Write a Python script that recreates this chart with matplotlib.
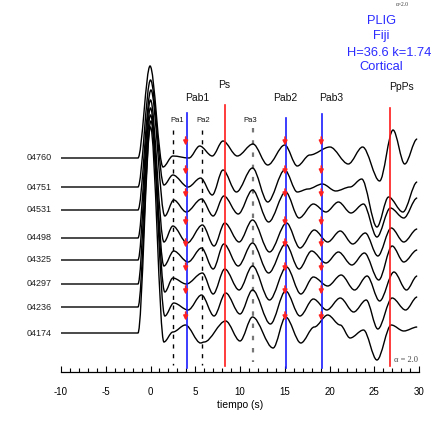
import matplotlib
matplotlib.use("Agg")
import matplotlib.pyplot as plt
from matplotlib.path import Path
from matplotlib.patches import PathPatch
from matplotlib.ticker import MultipleLocator

plt.rcParams["axes.unicode_minus"] = False

# ---------------------------------------------------------------------------
# Receiver-function traces, station PLIG (Fiji).
# Each trace is given by its turning points: times (s) and amplitudes
# (arbitrary units, positive up).
# ---------------------------------------------------------------------------
stations = ["04760", "04751", "04531", "04498", "04325", "04297", "04236", "04174"]
offsets = [175, 146, 123, 95, 73, 49, 26, 0]

t_04760 = [-10, -1.4, -0.05, 1.4, 2.5, 4.3, 5.5, 6.9, 8.1, 9.7, 11.45, 13.1, 15.0, 16.4, 17.8, 20.05, 22.1, 23.7, 25.6, 27.1, 28.4, 29.8]
a_04760 = [0, 0, 92, -9, 2, 0, 12, 2, 17, 2, 14, -7, 13, -8, 3, 11, -6, 11, -23, 28, -6, 19]

t_04751 = [-10, -1.4, 0.0, 1.5, 2.5, 4.2, 5.6, 6.9, 8.1, 9.6, 11.4, 13.1, 15.0, 16.4, 17.6, 19.2, 20.7, 22.3, 23.6, 25.3, 26.6, 28.2, 29.8]
a_04751 = [0, 0, 107, 2, 12, 0, 9, -8, 17, -5, 19, -15, 17, -5, -2, 3, -4, 0, 8, -40, -10, -25, 5]

t_04531 = [-10, -1.4, 0.05, 1.6, 2.6, 4.0, 5.7, 7.0, 8.2, 9.8, 11.4, 13.2, 15.1, 16.6, 18.2, 19.6, 21.0, 22.4, 23.8, 25.3, 26.8, 28.3, 29.8]
a_04531 = [0, 0, 120, -6, 10, -2, 11, -6, 14, -4, 20, -12, 18, -8, 6, -2, 8, -3, 6, -27, 2, -8, 12]

t_04498 = [-10, -1.4, 0.0, 1.5, 2.5, 4.1, 5.8, 7.1, 8.3, 9.9, 11.4, 13.3, 15.2, 16.7, 18.3, 19.8, 21.2, 22.6, 24.0, 25.4, 26.9, 28.3, 29.8]
a_04498 = [0, 0, 138, -4, 12, -5, 13, -8, 15, -4, 18, -14, 15, -10, 8, -4, 7, -6, 5, -18, 10, -4, 9]

t_04325 = [-10, -1.4, 0.0, 1.5, 2.6, 4.2, 5.7, 7.0, 8.2, 9.8, 11.4, 13.2, 15.1, 16.6, 18.0, 19.6, 21.0, 22.5, 23.9, 25.5, 27.0, 28.3, 29.8]
a_04325 = [0, 0, 152, -6, 9, -2, 12, -9, 16, -6, 17, -13, 16, -9, 9, -3, 8, -5, 7, -20, 14, -2, 10]

t_04297 = [-10, -1.4, 0.0, 1.6, 2.5, 4.0, 5.8, 7.0, 8.3, 9.9, 11.4, 13.3, 15.2, 16.8, 18.2, 19.8, 21.3, 22.8, 24.2, 25.6, 27.2, 28.6, 29.8]
a_04297 = [0, 0, 169, -8, 6, 0, 11, -10, 15, -6, 18, -16, 17, -10, 7, -2, 9, -6, 8, -17, 12, -6, 8]

t_04236 = [-10, -1.4, 0.05, 1.6, 2.6, 4.2, 5.7, 7.1, 8.4, 10.0, 11.4, 13.4, 15.1, 16.7, 18.2, 19.7, 21.2, 22.7, 24.1, 25.4, 27.0, 28.5, 29.8]
a_04236 = [0, 0, 186, -9, 4, -3, 12, -9, 14, -7, 17, -17, 16, -9, 8, -3, 9, -5, 7, -22, 9, -3, 10]

t_04174 = [-10, -1.4, 0.0, 1.5, 2.5, 3.9, 5.6, 6.0, 8.4, 10.0, 11.4, 13.7, 15.1, 16.8, 18.3, 19.8, 21.2, 22.3, 23.8, 25.3, 26.9, 28.3, 29.8]
a_04174 = [0, 0, 206, -9, 1, 8, -10, -9, 12, -8, 16, -15, 16, -10, 6, 18, 8, -5, 3, -27, 8, 2, 6]

times = [t_04760, t_04751, t_04531, t_04498, t_04325, t_04297, t_04236, t_04174]
amps = [a_04760, a_04751, a_04531, a_04498, a_04325, a_04297, a_04236, a_04174]

# Phase markers
dashed_phases = ["Pa1", "Pa2"]
dashed_times = [2.55, 5.75]
grey_phase = "Pa3"
grey_time = 11.4
blue_phases = ["Pab1", "Pab2", "Pab3"]
blue_times = [4.05, 15.15, 19.2]
red_phases = ["Ps", "PpPs"]
red_times = [8.35, 26.8]

station_info = ["PLIG", "Fiji", "H=36.6 k=1.74", "Cortical"]

# ---------------------------------------------------------------------------
W, H = 441, 424
fig = plt.figure(figsize=(W / 100, H / 100), dpi=100)
fig.patch.set_facecolor("white")

x0_px, x1_px = 61.0, 419.0
axis_px = 371.7
ax = fig.add_axes([x0_px / W, (H - axis_px) / H, (x1_px - x0_px) / W, axis_px / H])
ax.set_xlim(-10, 30)
y_top = 333.0
ax.set_ylim(y_top - axis_px, y_top)   # 1 unit = 1 px, 0 at lowest trace


def py(ypx):
    """vertical pixel row -> data value"""
    return y_top - ypx


for sp in ["left", "right", "top"]:
    ax.spines[sp].set_visible(False)
ax.spines["bottom"].set_linewidth(0.9)
ax.set_yticks([])
ax.xaxis.set_major_locator(MultipleLocator(5))
ax.xaxis.set_minor_locator(MultipleLocator(1))
ax.tick_params(axis="x", which="major", direction="in", length=4, width=0.8, pad=11,
               labelsize=7)
ax.tick_params(axis="x", which="minor", direction="in", length=3, width=0.8)
for lab in ax.get_xticklabels():
    lab.set_fontfamily("Liberation Sans")
ax.set_xlabel("tiempo (s)", fontsize=7.5, family="Liberation Sans", labelpad=2)
ax.patch.set_alpha(0)


def smooth_path(ts, vs, off):
    verts = [(ts[0], vs[0] + off)]
    codes = [Path.MOVETO]
    for i in range(1, len(ts)):
        ta, tb = ts[i - 1], ts[i]
        va, vb = vs[i - 1] + off, vs[i] + off
        d = (tb - ta) / 3.0
        verts += [(ta + d, va), (tb - d, vb), (tb, vb)]
        codes += [Path.CURVE4] * 3
    return Path(verts, codes)


# traces
for name, off, ts, vs in zip(stations, offsets, times, amps):
    ax.add_patch(PathPatch(smooth_path(ts, vs, off), facecolor="none",
                           edgecolor="black", lw=1.0, zorder=3, clip_on=False))
    ax.text(-11.0, off, name, ha="right", va="center", fontsize=6.5,
            family="Liberation Sans", color="#222222", clip_on=False)

# phase lines
ax.plot([dashed_times[0]] * 2, [py(130), py(365)], color="black", lw=1.0,
        dashes=(3, 4), zorder=2)
ax.plot([dashed_times[1]] * 2, [py(130), py(365)], color="black", lw=1.0,
        dashes=(3, 4), zorder=2)
ax.plot([grey_time] * 2, [py(128), py(362)], color="#777777", lw=1.6,
        dashes=(2, 3.5), zorder=2)
blue_tops = [113, 118, 114]
for tb, top in zip(blue_times, blue_tops):
    ax.plot([tb, tb], [py(top), py(368)], color="#1a1aff", lw=1.2, zorder=4)
red_tops = [105, 108]
for tr, top in zip(red_times, red_tops):
    ax.plot([tr, tr], [py(top), py(366)], color="#ff1a1a", lw=1.2, zorder=4)

# small red arrows above each trace at the Pab phases
for tb in blue_times:
    for off in offsets:
        ax.annotate("", xy=(tb - 0.12, off + 12.5), xytext=(tb - 0.12, off + 21),
                    arrowprops=dict(arrowstyle="-|>", color="#ff2020", lw=1.2,
                                    mutation_scale=6.5, shrinkA=0, shrinkB=0),
                    zorder=5)

# phase labels
lab_kw = dict(ha="center", va="center", family="Liberation Sans", color="#111111")
ax.text(2.95, py(120), "Pa1", fontsize=5.5, **lab_kw)
ax.text(5.85, py(120), "Pa2", fontsize=5.5, **lab_kw)
ax.text(11.15, py(120), "Pa3", fontsize=5.5, **lab_kw)
ax.text(5.2, py(98), "Pab1", fontsize=7.5, **lab_kw)
ax.text(8.2, py(85), "Ps", fontsize=7.5, **lab_kw)
ax.text(15.0, py(98), "Pab2", fontsize=7.5, **lab_kw)
ax.text(20.2, py(98), "Pab3", fontsize=7.5, **lab_kw)
ax.text(28.05, py(87), "PpPs", fontsize=7.5, **lab_kw)

# station description
info_x = [382, 381.5, 389, 381.5]
info_y = [24, 39, 55.5, 70]
for s, xp, yp in zip(station_info, info_x, info_y):
    fig.text(xp / W, 1 - yp / H, s, ha="center", va="baseline", fontsize=9.3,
             family="Liberation Sans", color="#2b2bff")
fig.text(402 / W, 1 - 4 / H, r"α=2.0", ha="center", va="center", fontsize=4,
         family="Liberation Serif", color="#333333")
ax.text(29.9, py(360), "α = 2.0", ha="right", va="center", fontsize=6,
        family="Liberation Serif", color="#444444")

fig.savefig("out.png", dpi=100, facecolor="white")
